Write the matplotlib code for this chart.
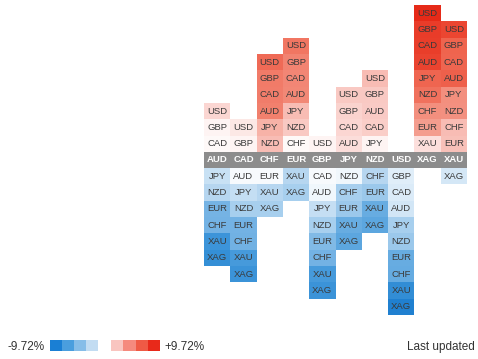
import matplotlib
matplotlib.use('Agg')
import matplotlib.pyplot as plt
from matplotlib.colors import LinearSegmentedColormap
from matplotlib.patches import Rectangle

plt.rcParams['font.family'] = ['Liberation Sans', 'DejaVu Sans']

currencies = ['AUD', 'CAD', 'CHF', 'EUR', 'GBP', 'JPY', 'NZD', 'USD', 'XAG', 'XAU']

# cells above the header row (top -> bottom) and their % change
above_labels = [
    ['USD', 'GBP', 'CAD'],
    ['USD', 'GBP'],
    ['USD', 'GBP', 'CAD', 'AUD', 'JPY', 'NZD'],
    ['USD', 'GBP', 'CAD', 'AUD', 'JPY', 'NZD', 'CHF'],
    ['USD'],
    ['USD', 'GBP', 'CAD', 'AUD'],
    ['USD', 'GBP', 'AUD', 'CAD', 'JPY'],
    [],
    ['USD', 'GBP', 'CAD', 'AUD', 'JPY', 'NZD', 'CHF', 'EUR', 'XAU'],
    ['USD', 'GBP', 'CAD', 'AUD', 'JPY', 'NZD', 'CHF', 'EUR'],
]
above_values = [
    [1.8, 0.5, 0.3],
    [1.0, 0.5],
    [6.6, 5.8, 5.7, 5.6, 3.4, 2.9],
    [6.0, 5.4, 5.3, 5.2, 2.9, 2.4, 0.3],
    [0.5],
    [2.4, 1.9, 1.8, 1.5],
    [2.9, 2.4, 2.3, 2.2, 0.5],
    [],
    [9.72, 8.8, 8.7, 8.5, 6.8, 6.3, 4.9, 4.3, 1.4],
    [8.3, 6.9, 6.8, 7.0, 4.9, 4.8, 2.9, 2.8],
]

# cells below the header row (top -> bottom) and their % change
below_labels = [
    ['JPY', 'NZD', 'EUR', 'CHF', 'XAU', 'XAG'],
    ['AUD', 'JPY', 'NZD', 'EUR', 'CHF', 'XAU', 'XAG'],
    ['EUR', 'XAU', 'XAG'],
    ['XAU', 'XAG'],
    ['CAD', 'AUD', 'JPY', 'NZD', 'EUR', 'CHF', 'XAU', 'XAG'],
    ['NZD', 'CHF', 'EUR', 'XAU', 'XAG'],
    ['CHF', 'EUR', 'XAU', 'XAG'],
    ['GBP', 'CAD', 'AUD', 'JPY', 'NZD', 'EUR', 'CHF', 'XAU', 'XAG'],
    [],
    ['XAG'],
]
below_values = [
    [-1.8, -2.4, -4.8, -4.9, -7.3, -7.8],
    [-0.3, -1.9, -2.9, -4.9, -5.0, -6.9, -7.4],
    [-0.3, -2.4, -2.9],
    [-2.4, -2.9],
    [-0.3, -0.5, -1.9, -2.9, -4.4, -4.9, -6.9, -7.4],
    [-0.5, -2.9, -3.4, -5.4, -5.9],
    [-2.4, -3.4, -5.4, -5.9],
    [-1.0, -1.2, -1.5, -2.9, -3.4, -5.4, -5.5, -7.9, -9.0],
    [],
    [-1.4],
]

vmax = 9.72
cmap = LinearSegmentedColormap.from_list(
    'strength',
    [(0.0, '#1478cc'), (0.125, '#3d95d9'), (0.25, '#74b3e4'), (0.375, '#b5d6f0'),
     (0.5, '#ffffff'),
     (0.625, '#f9c8c2'), (0.75, '#f3907f'), (0.875, '#ee5b45'), (1.0, '#e62a18')])

def cell_color(v):
    return cmap((v + vmax) / (2 * vmax))

fig = plt.figure(figsize=(4.78, 3.59), dpi=100)
W, H = 478, 359
ax = fig.add_axes([204 / W, 1 - 315 / H, 263 / W, 310 / H])
ax.set_xlim(-0.5, 9.5)
ax.set_ylim(9.5, -9.5)
ax.axis('off')

txt_color = '#3a3a3a'
fs = 6.8
for i, cur in enumerate(currencies):
    # header
    ax.add_patch(Rectangle((i - 0.5, -0.5), 1, 1, facecolor='#8c8c8c', edgecolor='none'))
    ax.text(i, 0, cur, ha='center', va='center', color='white', fontsize=fs, fontweight='bold')
    n = len(above_labels[i])
    for k, (lab, v) in enumerate(zip(above_labels[i], above_values[i])):
        y = -(n - k)
        ax.add_patch(Rectangle((i - 0.5, y - 0.5), 1, 1, facecolor=cell_color(v), edgecolor='none'))
        ax.text(i, y, lab, ha='center', va='center', color=txt_color, fontsize=fs)
    for k, (lab, v) in enumerate(zip(below_labels[i], below_values[i])):
        y = k + 1
        ax.add_patch(Rectangle((i - 0.5, y - 0.5), 1, 1, facecolor=cell_color(v), edgecolor='none'))
        ax.text(i, y, lab, ha='center', va='center', color=txt_color, fontsize=fs)

# legend
legend_blue = ['#1a7fd4', '#4a9ede', '#86bde8', '#c2dcf2']
legend_red = ['#f9c5c0', '#f58a7e', '#ef5a45', '#e8291a']
fig.text(8 / W, 1 - 347 / H, '-%.2f%%' % vmax, ha='left', va='center', fontsize=8.5, color='#333333')
for j, c in enumerate(legend_blue):
    fig.patches.append(Rectangle(((50 + 12 * j) / W, 1 - 351 / H), 12 / W, 11 / H,
                                 transform=fig.transFigure, facecolor=c, edgecolor='none'))
for j, c in enumerate(legend_red):
    fig.patches.append(Rectangle(((111 + 12.3 * j) / W, 1 - 351 / H), 12.3 / W, 11 / H,
                                 transform=fig.transFigure, facecolor=c, edgecolor='none'))
fig.text(164 / W, 1 - 347 / H, '+%.2f%%' % vmax, ha='left', va='center', fontsize=8.5, color='#333333')
fig.text(475 / W, 1 - 347 / H, 'Last updated', ha='right', va='center', fontsize=8.5, color='#333333')

fig.savefig('out.png', dpi=100, facecolor='white')
